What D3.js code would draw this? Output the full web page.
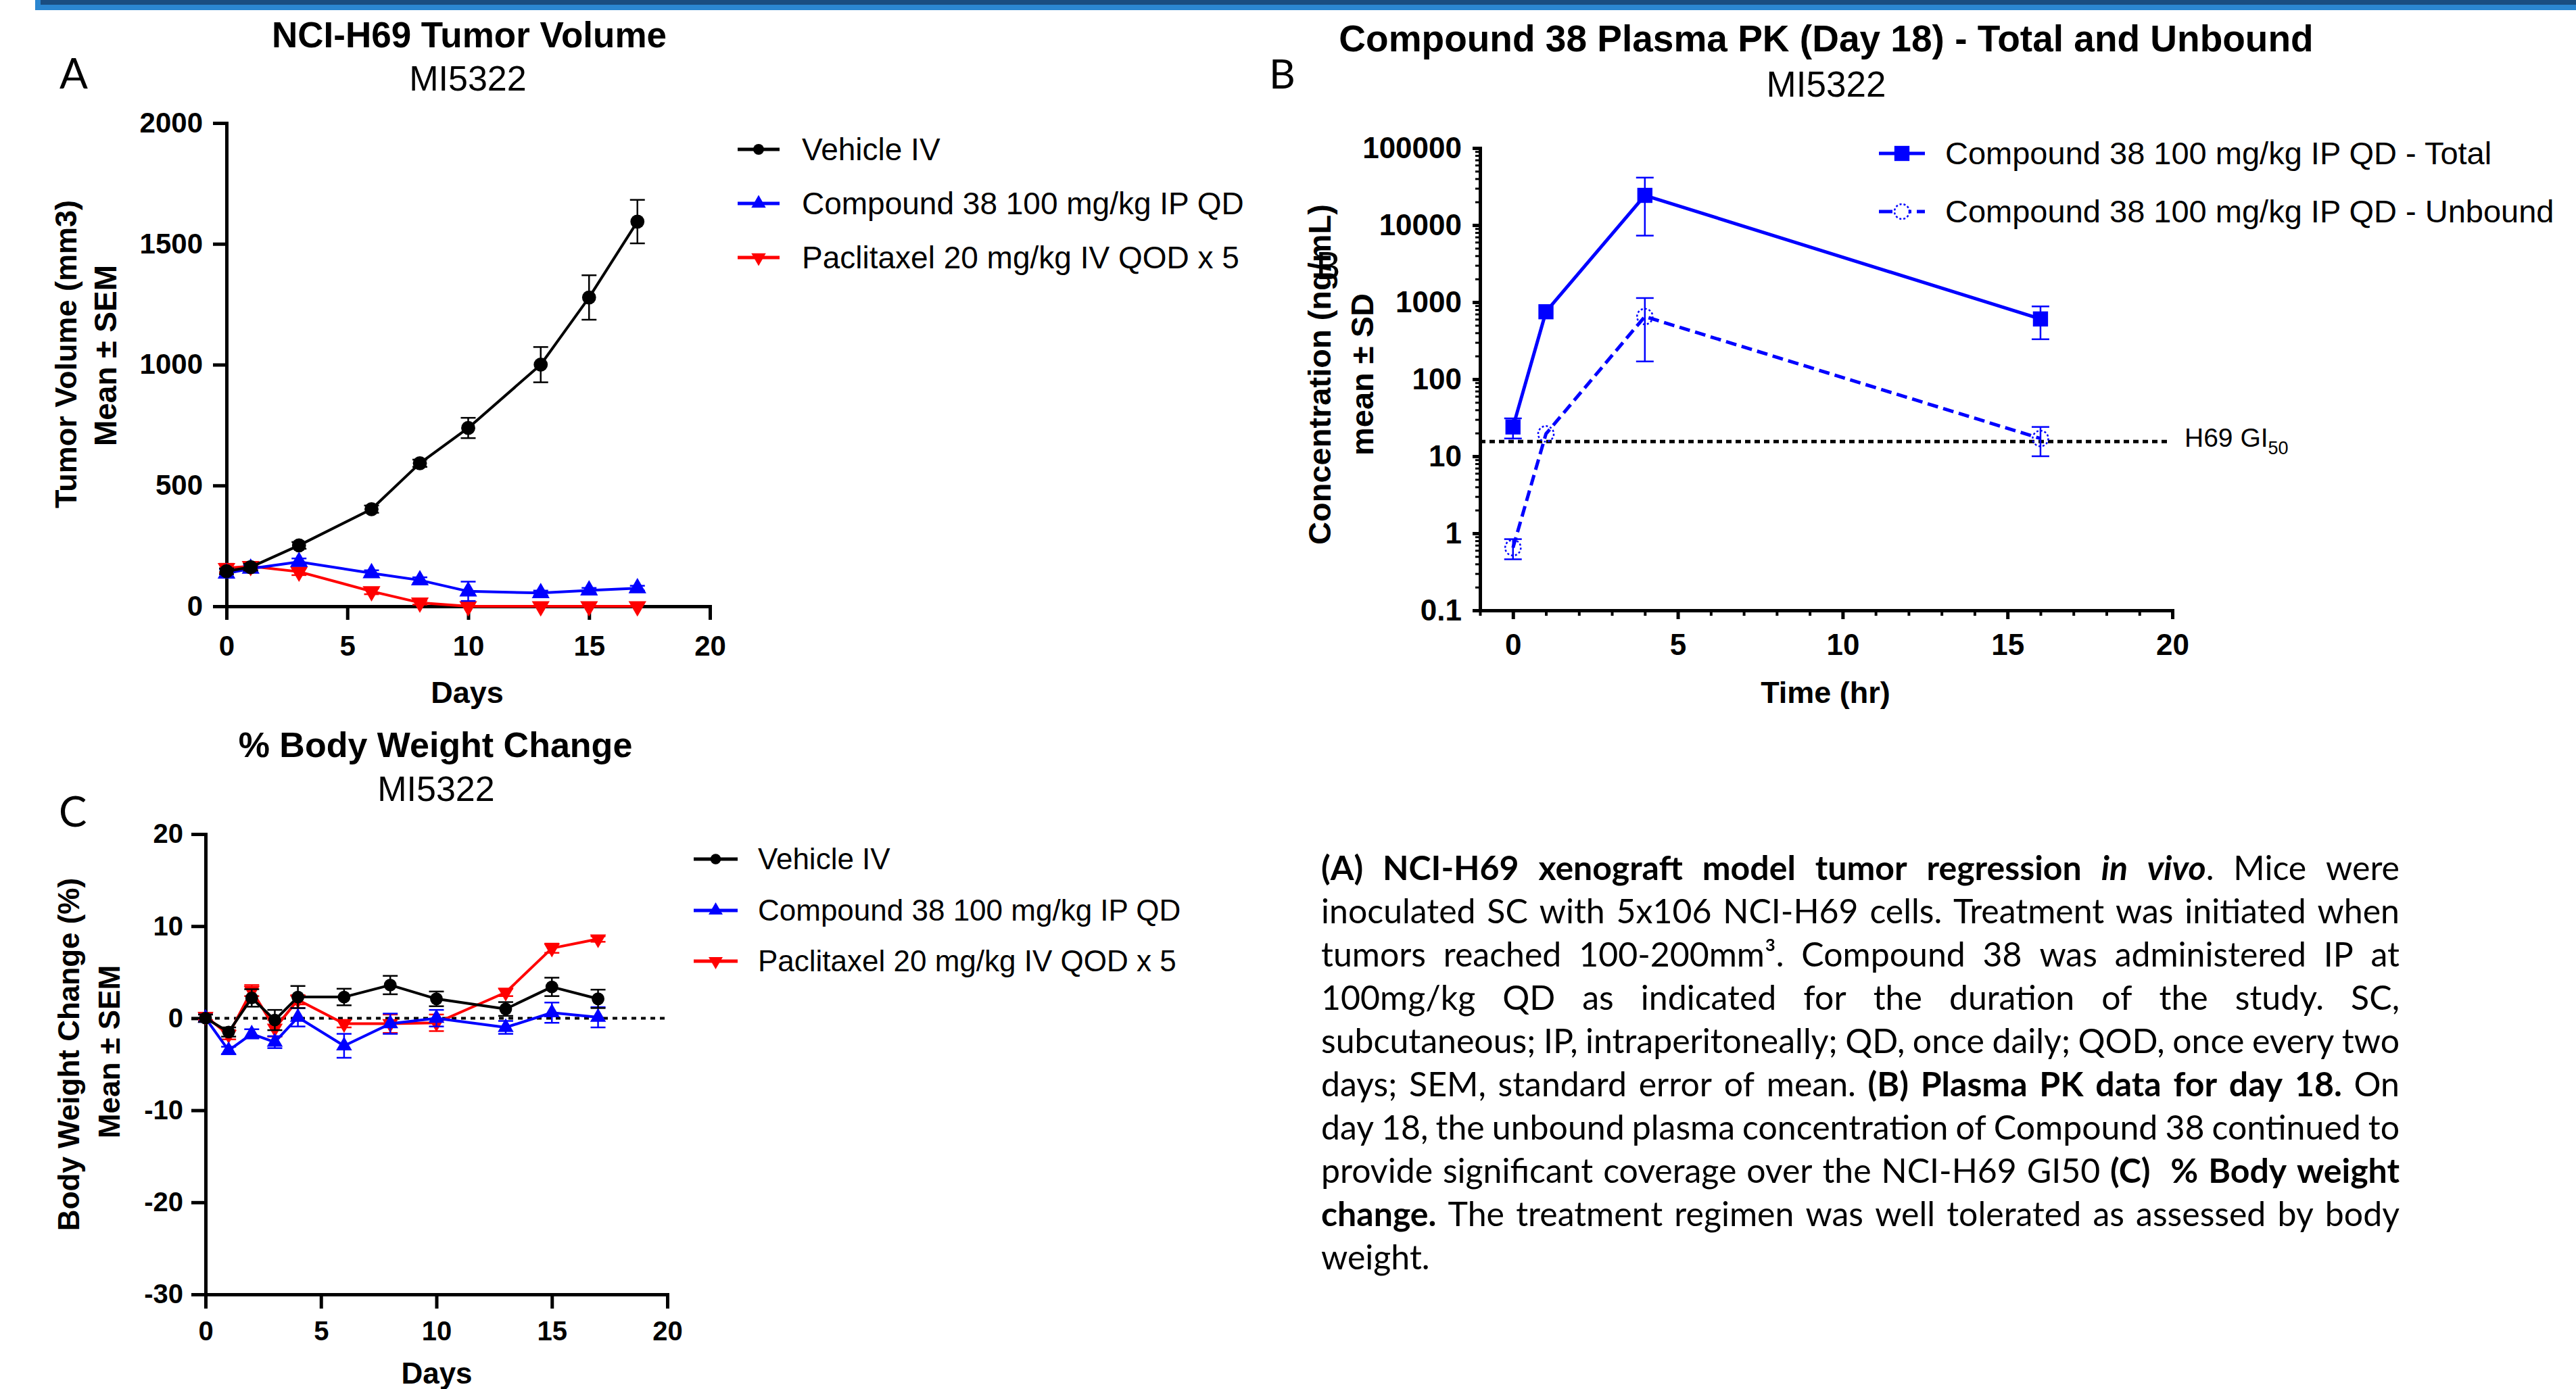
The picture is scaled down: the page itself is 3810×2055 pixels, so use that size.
<!DOCTYPE html>
<html><head><meta charset="utf-8">
<script src="https://cdn.jsdelivr.net/npm/d3@7"></script>
<style>html,body{margin:0;padding:0;background:#fff}svg{display:block}</style>
</head><body>
<svg id="chart" width="3810" height="2055"></svg>
<script>
// ---------------- DATA ----------------
const seriesNames = ["Vehicle IV", "Compound 38 100 mg/kg IP QD", "Paclitaxel 20 mg/kg IV QOD x 5"];
const seriesColors = ["#000000", "#0000FF", "#FF0000"];

// Panel A: tumor volume (mm3), mean ± SEM
const daysA = [0, 1, 3, 6, 8, 10, 13, 15, 17];
const vehicleA = [145, 162, 252, 402, 592, 738, 1000, 1278, 1592];
const vehicleSemA = [12, 14, 14, 15, 15, 42, 73, 92, 90];
const cpd38A = [136, 156, 184, 137, 108, 62, 55, 66, 75];
const cpd38SemA = [18, 14, 14, 12, 12, 40, 10, 10, 10];
const paclitaxelA = [158, 166, 143, 62, 15, 0, 0, 0, 0];
const paclitaxelSemA = [18, 12, 14, 12, 8, 0, 0, 0, 0];
const xTicksA = [0, 5, 10, 15, 20];
const yTicksA = [0, 500, 1000, 1500, 2000];

// Panel B: plasma PK (ng/mL), mean ± SD
const timeB = [0, 1, 4, 16];
const totalB = [24, 750, 24300, 605];
const totalSdB = [7, 0, 17000, 275];
const unboundB = [0.65, 19.5, 650, 17];
const unboundSdB = [0.19, 0, 480, 7];
const gi50B = 15.5;
const seriesNamesB = ["Compound 38 100 mg/kg IP QD - Total", "Compound 38 100 mg/kg IP QD - Unbound"];
const xTicksB = [0, 5, 10, 15, 20];
const yTicksB = [0.1, 1, 10, 100, 1000, 10000, 100000];
const yTickLabelsB = ["0.1", "1", "10", "100", "1000", "10000", "100000"];

// Panel C: body weight change (%), mean ± SEM
const daysC = [0, 1, 2, 3, 4, 6, 8, 10, 13, 15, 17];
const vehicleC = [0, -1.5, 2.2, -0.2, 2.3, 2.3, 3.6, 2.1, 1.0, 3.4, 2.1];
const vehicleSemC = [0.4, 0.5, 0.95, 1.1, 1.2, 0.9, 1.0, 0.8, 0.75, 1.0, 1.0];
const cpd38C = [0, -3.5, -1.7, -2.6, 0.1, -3.0, -0.6, 0, -1.0, 0.6, 0.1];
const cpd38SemC = [0.4, 0.4, 0.5, 0.65, 1.0, 1.3, 1.1, 0.9, 0.7, 1.1, 1.1];
const paclitaxelC = [0.2, -1.8, 3.0, -1.1, 2.0, -0.6, -0.6, -0.5, 2.8, 7.6, 8.6];
const paclitaxelSemC = [0.4, 0.5, 0.6, 0.9, 0.5, 0.4, 1.0, 0.9, 0.4, 0.5, 0.3];
const xTicksC = [0, 5, 10, 15, 20];
const yTicksC = [-30, -20, -10, 0, 10, 20];

// Caption text (runs: [text, style]) b=bold, bi=bold italic, n=normal
const captionLines = [
  [["(A) NCI-H69 xenograft model tumor regression ", "b"], ["in vivo", "bi"], [". Mice were", "n"]],
  [["inoculated SC with 5x106 NCI-H69 cells. Treatment was initiated when", "n"]],
  [["tumors reached 100-200mm\u00B3. Compound 38 was administered IP at", "n"]],
  [["100mg/kg QD as indicated for the duration of the study. SC,", "n"]],
  [["subcutaneous; IP, intraperitoneally; QD, once daily; QOD, once every two", "n"]],
  [["days; SEM, standard error of mean. ", "n"], ["(B) Plasma PK data for day 18.", "b"], [" On", "n"]],
  [["day 18, the unbound plasma concentration of Compound 38 continued to", "n"]],
  [["provide significant coverage over the NCI-H69 GI50 ", "n"], ["(C)  % Body weight", "b"]],
  [["change.", "b"], [" The treatment regimen was well tolerated as assessed by body", "n"]],
  [["weight.", "n"]]
];

// ---------------- DRAWING ----------------
const FONT = "'Liberation Sans', Arial, Helvetica, sans-serif";
const CAPFONT = "Lato, 'Open Sans', sans-serif";
const svg = d3.select("#chart");
const plain = d => String(d);

// top banner
svg.append("rect").attr("x", 52).attr("y", -5).attr("width", 3770).attr("height", 20).attr("fill", "#2B86D0");
svg.append("rect").attr("x", 60).attr("y", -5).attr("width", 3760).attr("height", 12).attr("fill", "#1A4D80");

function txt(g, x, y, s, size, weight, anchor, family) {
  return g.append("text").attr("x", x).attr("y", y).text(s)
    .attr("font-family", family || FONT).attr("font-size", size)
    .attr("font-weight", weight || "normal").attr("text-anchor", anchor || "middle").attr("fill", "#000");
}
function vtxt(g, x, y, s, size) {
  return g.append("text").attr("transform", `translate(${x},${y}) rotate(-90)`).text(s)
    .attr("font-family", FONT).attr("font-size", size).attr("font-weight", "bold")
    .attr("text-anchor", "middle").attr("fill", "#000");
}
function styleAxis(g, fs, sw) {
  g.attr("font-family", FONT);
  g.select(".domain").attr("stroke", "#000").attr("stroke-width", sw).attr("stroke-linecap", "square");
  g.selectAll(".tick line").attr("stroke", "#000").attr("stroke-width", sw);
  g.selectAll(".tick text").attr("font-family", FONT).attr("font-weight", "bold").attr("font-size", fs).attr("fill", "#000");
}

function plotSeries(g, o) {
  const pts = o.x.map((d, i) => ({ x: d, y: o.y[i], e: o.e ? o.e[i] : 0 }));
  const eg = g.append("g");
  pts.filter(p => p.e > 0).forEach(p => {
    const lo = o.ys(Math.max(p.y - p.e, o.floor !== undefined ? o.floor : -1e9));
    const hi = o.ys(p.y + p.e);
    const cx = o.xs(p.x);
    eg.append("line").attr("x1", cx).attr("x2", cx).attr("y1", lo).attr("y2", hi)
      .attr("stroke", o.color).attr("stroke-width", o.ew || 2.5);
    [lo, hi].forEach(yy => eg.append("line").attr("x1", cx - o.cap / 2).attr("x2", cx + o.cap / 2)
      .attr("y1", yy).attr("y2", yy).attr("stroke", o.color).attr("stroke-width", o.ew || 2.5));
  });
  const line = d3.line().x(p => o.xs(p.x)).y(p => o.ys(p.y));
  g.append("path").datum(pts).attr("d", line).attr("fill", "none")
    .attr("stroke", o.color).attr("stroke-width", o.lw)
    .attr("stroke-dasharray", o.dash || null).attr("stroke-linejoin", "round");
  const sym = d3.symbol().type(o.sym).size(o.size);
  g.append("g").selectAll("path").data(pts).join("path")
    .attr("d", sym)
    .attr("transform", p => `translate(${o.xs(p.x)},${o.ys(p.y)})${o.rot ? " rotate(180)" : ""}`)
    .attr("fill", o.open ? "none" : o.color)
    .attr("stroke", o.color).attr("stroke-width", o.open ? 2.5 : 0)
    .attr("stroke-dasharray", o.open ? "3,3" : null);
}

function legend(g, items, x0, x1, xt, rows, fs) {
  items.forEach((it, i) => {
    const y = rows[i];
    g.append("line").attr("x1", x0).attr("x2", x1).attr("y1", y).attr("y2", y)
      .attr("stroke", it.color).attr("stroke-width", it.lw || 5)
      .attr("stroke-dasharray", it.dash || null);
    g.append("path").attr("d", d3.symbol().type(it.sym).size(it.size)())
      .attr("transform", `translate(${(x0 + x1) / 2},${y})${it.rot ? " rotate(180)" : ""}`)
      .attr("fill", it.open ? "#fff" : it.color).attr("stroke", it.color)
      .attr("stroke-width", it.open ? 2.5 : 0).attr("stroke-dasharray", it.open ? "3,3" : null);
    txt(g, xt, y + fs * 0.35, it.name, fs, "normal", "start");
  });
}

// ---------- Panel A ----------
const gA = svg.append("g");
txt(gA, 88, 131, "A", 62, "normal", "start", CAPFONT);
txt(gA, 694, 70, "NCI-H69 Tumor Volume", 53, "bold");
txt(gA, 692, 134, "MI5322", 52, "normal");
const xA = d3.scaleLinear().domain([0, 20]).range([335, 1050]);
const yA = d3.scaleLinear().domain([0, 2000]).range([897, 182]);
gA.append("g").attr("transform", "translate(0,897)")
  .call(d3.axisBottom(xA).tickValues(xTicksA).tickFormat(plain).tickSize(20).tickSizeOuter(0).tickPadding(23))
  .call(styleAxis, 42, 5);
gA.append("g").attr("transform", "translate(335,0)")
  .call(d3.axisLeft(yA).tickValues(yTicksA).tickFormat(plain).tickSize(20).tickSizeOuter(0).tickPadding(15))
  .call(styleAxis, 42, 5);
txt(gA, 691, 1040, "Days", 45, "bold");
vtxt(gA, 113, 524, "Tumor Volume (mm3)", 45);
vtxt(gA, 172, 526, "Mean \u00B1 SEM", 46);
const baseA = { xs: xA, ys: yA, cap: 22, lw: 4 };
plotSeries(gA, Object.assign({}, baseA, { x: daysA, y: paclitaxelA, e: paclitaxelSemA, color: seriesColors[2], sym: d3.symbolTriangle, size: 300, rot: true }));
plotSeries(gA, Object.assign({}, baseA, { x: daysA, y: cpd38A, e: cpd38SemA, color: seriesColors[1], sym: d3.symbolTriangle, size: 300 }));
plotSeries(gA, Object.assign({}, baseA, { x: daysA, y: vehicleA, e: vehicleSemA, color: seriesColors[0], sym: d3.symbolCircle, size: 340 }));
legend(gA, [
  { name: seriesNames[0], color: seriesColors[0], sym: d3.symbolCircle, size: 200 },
  { name: seriesNames[1], color: seriesColors[1], sym: d3.symbolTriangle, size: 200 },
  { name: seriesNames[2], color: seriesColors[2], sym: d3.symbolTriangle, size: 200, rot: true }
], 1091, 1153, 1186, [221, 301, 381], 46);

// ---------- Panel B ----------
const gB = svg.append("g");
txt(gB, 1877, 131, "B", 60, "normal", "start", CAPFONT);
txt(gB, 2701, 76, "Compound 38 Plasma PK (Day 18) - Total and Unbound", 55, "bold");
txt(gB, 2701, 143, "MI5322", 53, "normal");
const xB = d3.scaleLinear().domain([-1, 20]).range([2189, 3213]);
const yB = d3.scaleLog().domain([0.1, 100000]).range([903, 219]);
const minorY = [];
yTicksB.slice(0, -1).forEach(d => { for (let k = 2; k <= 9; k++) minorY.push(d * k); });
const minorX = d3.range(-1, 21).filter(d => !xTicksB.includes(d));
gB.append("g").attr("transform", "translate(0,903)")
  .call(d3.axisBottom(xB).tickValues(minorX).tickSize(8).tickSizeOuter(0).tickFormat(""))
  .call(styleAxis, 44, 4);
gB.append("g").attr("transform", "translate(0,903)")
  .call(d3.axisBottom(xB).tickValues(xTicksB).tickFormat(plain).tickSize(13).tickSizeOuter(0).tickPadding(22))
  .call(styleAxis, 44, 5);
gB.append("g").attr("transform", "translate(2189,0)")
  .call(d3.axisLeft(yB).tickValues(minorY).tickSize(7).tickSizeOuter(0).tickFormat(""))
  .call(styleAxis, 44, 3);
gB.append("g").attr("transform", "translate(2189,0)")
  .call(d3.axisLeft(yB).tickValues(yTicksB).tickSize(11).tickSizeOuter(0).tickPadding(16)
    .tickFormat((d, i) => yTickLabelsB[i]))
  .call(styleAxis, 44, 5);
txt(gB, 2700, 1040, "Time (hr)", 45, "bold");
vtxt(gB, 1968, 554, "Concentration (ng/mL)", 47);
vtxt(gB, 2031, 554, "mean \u00B1 SD", 47);
txt(gB, 1946, 413, "B", 56, "normal", "start", CAPFONT);
// GI50 reference line
gB.append("line").attr("x1", 2189).attr("x2", xB(20) - 6).attr("y1", yB(gi50B)).attr("y2", yB(gi50B))
  .attr("stroke", "#000").attr("stroke-width", 5).attr("stroke-dasharray", "8,6");
const gi = txt(gB, 3231, yB(gi50B) + 8, "H69 GI", 39, "normal", "start");
gi.append("tspan").attr("font-size", 27).attr("dy", 11).text("50");
const baseB = { xs: xB, ys: yB, cap: 26, lw: 5, floor: 0.11, ew: 2.5 };
plotSeries(gB, Object.assign({}, baseB, { x: timeB, y: totalB, e: totalSdB, color: "#0000FF", sym: d3.symbolSquare, size: 500 }));
plotSeries(gB, Object.assign({}, baseB, { x: timeB, y: unboundB, e: unboundSdB, color: "#0000FF", sym: d3.symbolCircle, size: 420, open: true, dash: "16,8" }));
legend(gB, [
  { name: seriesNamesB[0], color: "#0000FF", sym: d3.symbolSquare, size: 500 },
  { name: seriesNamesB[1], color: "#0000FF", sym: d3.symbolCircle, size: 380, open: true, dash: "20,8" }
], 2779, 2847, 2877, [227, 313], 47);

// ---------- Panel C ----------
const gC = svg.append("g");
txt(gC, 87, 1223, "C", 62, "normal", "start", CAPFONT);
txt(gC, 644, 1120, "% Body Weight Change", 52, "bold");
txt(gC, 645, 1185, "MI5322", 52, "normal");
const xC = d3.scaleLinear().domain([0, 20]).range([304, 987]);
const yC = d3.scaleLinear().domain([-30, 20]).range([1915, 1234]);
gC.append("g").attr("transform", "translate(0,1915)")
  .call(d3.axisBottom(xC).tickValues(xTicksC).tickFormat(plain).tickSize(21).tickSizeOuter(0).tickPadding(19))
  .call(styleAxis, 40, 5);
gC.append("g").attr("transform", "translate(304,0)")
  .call(d3.axisLeft(yC).tickValues(yTicksC).tickFormat(plain).tickSize(21).tickSizeOuter(0).tickPadding(12))
  .call(styleAxis, 40, 5);
txt(gC, 646, 2047, "Days", 44, "bold");
vtxt(gC, 117, 1560, "Body Weight Change (%)", 44);
vtxt(gC, 177, 1556, "Mean \u00B1 SEM", 44);
gC.append("line").attr("x1", 304).attr("x2", 987).attr("y1", yC(0)).attr("y2", yC(0))
  .attr("stroke", "#000").attr("stroke-width", 4).attr("stroke-dasharray", "7,7");
const baseC = { xs: xC, ys: yC, cap: 22, lw: 4 };
plotSeries(gC, Object.assign({}, baseC, { x: daysC, y: paclitaxelC, e: paclitaxelSemC, color: seriesColors[2], sym: d3.symbolTriangle, size: 240, rot: true }));
plotSeries(gC, Object.assign({}, baseC, { x: daysC, y: cpd38C, e: cpd38SemC, color: seriesColors[1], sym: d3.symbolTriangle, size: 240 }));
plotSeries(gC, Object.assign({}, baseC, { x: daysC, y: vehicleC, e: vehicleSemC, color: seriesColors[0], sym: d3.symbolCircle, size: 280 }));
legend(gC, [
  { name: seriesNames[0], color: seriesColors[0], sym: d3.symbolCircle, size: 190 },
  { name: seriesNames[1], color: seriesColors[1], sym: d3.symbolTriangle, size: 190 },
  { name: seriesNames[2], color: seriesColors[2], sym: d3.symbolTriangle, size: 190, rot: true }
], 1026, 1091, 1121, [1271, 1347, 1422], 44);

// ---------- Caption (justified) ----------
const capG = svg.append("g");
const capLeft = 1954, capRight = 3549, capTop = 1302, capLead = 64;
function tokenize(runs) {
  const words = [[]];
  runs.forEach(([t, st]) => {
    t.split(" ").forEach((part, j) => {
      if (j > 0) words.push([]);
      if (part.length) words[words.length - 1].push([part, st]);
    });
  });
  return words;
}
function makeWord(parent, word, fs) {
  const t = parent.append("text").attr("font-family", CAPFONT).attr("font-size", fs).attr("fill", "#000");
  word.forEach(([s, st]) => {
    t.append("tspan").text(s)
      .attr("font-weight", st.includes("b") ? "bold" : "normal")
      .attr("font-style", st.includes("i") ? "italic" : "normal");
  });
  return t;
}
// choose font size so that the densest line sets naturally
const tmp = capG.append("g");
let maxRatio = 0;
captionLines.forEach((runs, li) => {
  if (li === captionLines.length - 1) return;
  const words = tokenize(runs);
  let w = 0;
  words.forEach(wd => { const t = makeWord(tmp, wd, 100); w += wd.length ? t.node().getComputedTextLength() : 0; });
  w += (words.length - 1) * 21;
  maxRatio = Math.max(maxRatio, w / (capRight - capLeft));
});
tmp.remove();
const capFs = Math.min(50, 100 / maxRatio);
captionLines.forEach((runs, li) => {
  const words = tokenize(runs);
  const y = capTop + li * capLead;
  const nodes = words.map(wd => makeWord(capG, wd, capFs).attr("y", y));
  const widths = nodes.map((n, i) => words[i].length ? n.node().getComputedTextLength() : 0);
  const total = d3.sum(widths);
  const last = li === captionLines.length - 1;
  const gap = last ? capFs * 0.21 : (capRight - capLeft - total) / (words.length - 1);
  let x = capLeft;
  nodes.forEach((n, i) => { n.attr("x", x); x += widths[i] + gap; });
});
</script>
</body></html>
